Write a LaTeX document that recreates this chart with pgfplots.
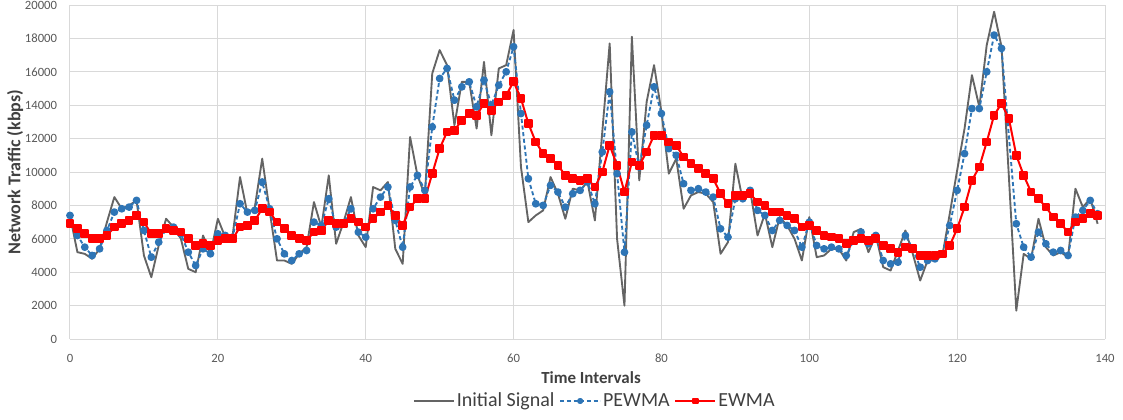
\documentclass[border=0pt]{standalone}
\usepackage{fontspec}
\setmainfont{Carlito}
\usepackage{pgfplots}
\usepackage{pgfplotstable}
\pgfplotsset{compat=1.18}

\definecolor{sigGray}{RGB}{100,100,100}
\definecolor{pewBlue}{RGB}{46,117,182}
\definecolor{ewRed}{RGB}{255,0,0}
\definecolor{gridGray}{RGB}{217,217,217}
\definecolor{tickGray}{RGB}{89,89,89}
\definecolor{titleGray}{RGB}{64,64,64}

% t = time interval, sig = initial signal, pew = PEWMA, ew = EWMA
\pgfplotstableread{
t sig pew ew
0 7400 7400 6900
1 5200 6200 6600
2 5100 5500 6300
3 4800 5000 6000
4 5400 5400 6000
5 7000 6500 6200
6 8500 7600 6700
7 7800 7800 6900
8 8000 7900 7100
9 8300 8300 7400
10 5000 6500 7000
11 3700 4900 6300
12 5600 5800 6300
13 7200 6600 6600
14 6700 6700 6500
15 6000 6300 6400
16 4200 5200 6000
17 4000 4400 5600
18 6200 5400 5700
19 5100 5100 5600
20 7200 6300 5900
21 6100 6200 6000
22 6200 6100 6000
23 9700 8100 6700
24 7500 7600 6800
25 7900 7700 7100
26 10800 9400 7800
27 7700 7800 7600
28 4700 6000 7000
29 4700 5100 6600
30 4500 4700 6200
31 5100 5100 6000
32 5500 5300 5900
33 8200 7000 6400
34 6700 6800 6500
35 9800 8400 7100
36 5700 6700 6900
37 7000 6900 6900
38 8500 7800 7200
39 6200 6400 7000
40 5500 6100 6700
41 9100 7800 7200
42 8900 8500 7600
43 9400 9100 8000
44 5400 7100 7400
45 4500 5500 6800
46 12100 9100 7900
47 9800 9800 8400
48 8600 8900 8400
49 15900 12700 9900
50 17300 15600 11400
51 16400 16200 12400
52 12800 14300 12500
53 15400 15100 13100
54 15400 15400 13500
55 12600 13900 13400
56 16600 15500 14100
57 12200 14000 13700
58 16200 15200 14200
59 16400 16000 14600
60 18500 17500 15400
61 10300 13500 14400
62 7000 9600 12900
63 7400 8100 11800
64 7700 8000 11100
65 9700 9200 10800
66 8700 8800 10400
67 7200 7900 9800
68 9000 8700 9600
69 8900 8900 9500
70 9400 9400 9600
71 7100 8100 9100
72 12400 11200 10000
73 17700 14800 11600
74 6000 9900 10400
75 2000 5200 8800
76 18100 12400 10600
77 9500 10300 10400
78 14200 12800 11200
79 16400 15100 12200
80 13600 13500 12200
81 9900 11400 11800
82 10800 11000 11600
83 7800 9300 10900
84 8600 8900 10500
85 8800 9000 10200
86 8700 8800 9900
87 8200 8500 9600
88 5100 6600 8700
89 5800 6100 8100
90 10500 8400 8600
91 8300 8400 8600
92 8900 8900 8700
93 6200 7700 8200
94 7500 7400 8000
95 5500 6500 7600
96 7300 7100 7600
97 6800 6800 7400
98 6000 6500 7200
99 4700 5500 6700
100 7300 7000 6800
101 4900 5600 6500
102 5000 5400 6200
103 5400 5500 6100
104 5400 5400 6000
105 4700 5000 5700
106 6400 5900 5900
107 6600 6400 6000
108 5200 5700 5900
109 6200 6200 6000
110 4300 4700 5600
111 4100 4500 5400
112 5300 4600 5200
113 6500 6200 5500
114 5100 5400 5400
115 3500 4300 5000
116 4700 4700 5000
117 4700 4800 5000
118 5000 5100 5100
119 7500 6800 5600
120 10100 8900 6600
121 12600 11100 7900
122 15800 13800 9500
123 13900 13800 10300
124 17600 16000 11800
125 19600 18200 13400
126 17500 17400 14100
127 9700 nan 13200
128 1700 6900 11000
129 5100 5500 9800
130 4800 4900 8800
131 7200 6400 8400
132 5500 5700 7900
133 5000 5200 7300
134 5200 5300 6900
135 4900 5000 6400
136 9000 7300 7000
137 7900 7700 7200
138 8400 8300 7500
139 6900 7500 7400
}\traffic

\begin{document}
\begin{tikzpicture}
\begin{axis}[
  name=ax, at={(0,0)}, anchor=south west,
  scale only axis, width=776.25pt, height=250.5pt,
  xmin=0, xmax=140, ymin=0, ymax=20000,
  xtick={0,20,...,140}, ytick={0,2000,...,20000},
  grid=major, grid style={gridGray, line width=0.75pt},
  axis line style={draw=none},
  major tick length=0pt,
  scaled y ticks=false,
  /pgf/number format/1000 sep={},
  /pgf/number format/assume math mode=true,
  tick label style={font=\fontsize{9.5}{10}\selectfont, text=tickGray},
  yticklabel style={inner sep=0pt, xshift=-9.5pt},
  xticklabel style={inner sep=0pt, yshift=-11pt},
  clip=false,
  unbounded coords=discard,
  every axis plot/.append style={line join=round},
  legend columns=3,
  legend cell align=left,
  legend style={at={(0.507,-0.1856)}, anchor=center, draw=none, fill=none,
    font=\fontsize{15}{15}\selectfont, text=titleGray,
    nodes={inner xsep=1.5pt, inner ysep=0pt},
    /tikz/every even column/.append style={column sep=2pt}},
  legend image code/.code={\draw[mark repeat=2, mark phase=2, #1, mark size=1.6pt] plot coordinates {(0pt,0pt) (15pt,0pt) (30pt,0pt)};},
]
\addplot[sigGray, line width=1.4pt] table[x=t, y=sig] {\traffic};
\addlegendentry{Initial Signal}
\addplot[pewBlue, line width=1.4pt, dash pattern=on 3pt off 2pt,
  mark=*, mark size=2.2pt, mark options={solid}] table[x=t, y=pew] {\traffic};
\addlegendentry{PEWMA}
\addplot[ewRed, line width=1.5pt, mark=square*, mark size=2.5pt, mark options={solid}]
  table[x=t, y=ew] {\traffic};
\addlegendentry{EWMA}
\end{axis}
\node[font=\bfseries\fontsize{12.7}{13}\selectfont, text=titleGray] at (390.75pt,-29pt) {Time Intervals};
\node[rotate=90, font=\bfseries\fontsize{13.5}{14}\selectfont, text=titleGray] at (-41.25pt,125pt) {Network Traffic (kbps)};
\pgfresetboundingbox
\path[use as bounding box] (-52.5pt,-60pt) rectangle (789.75pt,254.25pt);
\end{tikzpicture}
\end{document}
